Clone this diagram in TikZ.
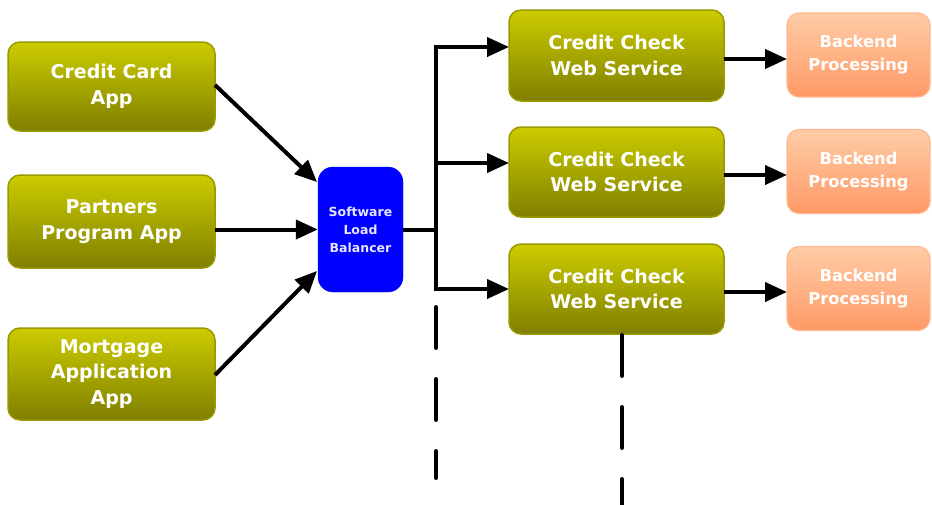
\documentclass[tikz,border=0pt]{standalone}
\usepackage{fontspec}
\setmainfont{DejaVu Sans}
\usetikzlibrary{arrows.meta,calc}
\definecolor{olivetop}{HTML}{CCCC00}
\definecolor{olivebot}{HTML}{7F7F00}
\definecolor{oliveedge}{HTML}{999900}
\definecolor{peachtop}{HTML}{FFCCA6}
\definecolor{peachbot}{HTML}{FF9966}
\definecolor{peachedge}{HTML}{FFB890}
\definecolor{lbtext}{HTML}{E6E6FF}
\tikzset{
  appbox/.style={draw=oliveedge, line width=1.5pt, rounded corners=12pt, top color=olivetop, bottom color=olivebot,
     text=white, font=\bfseries\fontsize{19}{25.5}\selectfont, align=center, inner sep=0pt},
  backbox/.style={draw=peachedge, line width=1.2pt, rounded corners=12pt, top color=peachtop, bottom color=peachbot,
     text=white, font=\bfseries\fontsize{16.3}{23}\selectfont, align=center, inner sep=0pt,
     minimum width=143pt, minimum height=84pt},
  lbbox/.style={fill=blue, draw=blue, rounded corners=15pt, text=lbtext,
     font=\bfseries\fontsize{12.5}{18}\selectfont, align=center, inner sep=0pt,
     minimum width=85pt, minimum height=125pt},
  conn/.style={line width=4pt, -{Triangle[length=22pt,width=19pt]}},
  plain/.style={line width=4pt},
  dashline/.style={line width=4pt, line cap=round, dash pattern=on 41pt off 31pt}
}
\begin{document}
\begin{tikzpicture}[x=1pt,y=-1pt]
\useasboundingbox (0,0) rectangle (932,504);
% left apps
\node[appbox, minimum width=207pt, minimum height=89pt] (a1) at (111.5,86.5) {Credit Card\\App};
\node[appbox, minimum width=207pt, minimum height=93pt] (a2) at (111.5,221.5) {Partners\\Program App};
\node[appbox, minimum width=207pt, minimum height=92pt] (a3) at (111.5,374) {Mortgage\\Application\\App};
% load balancer
\node[lbbox] (lb) at (360.5,229.5) {Software\\Load\\Balancer};
% credit check services
\node[appbox, minimum width=215pt, minimum height=91pt] (c1) at (616.5,55.5) {Credit Check\\Web Service};
\node[appbox, minimum width=215pt, minimum height=90pt] (c2) at (616.5,172) {Credit Check\\Web Service};
\node[appbox, minimum width=215pt, minimum height=90pt] (c3) at (616.5,289) {Credit Check\\Web Service};
% backend
\node[backbox] (b1) at (858.5,55) {Backend\\Processing};
\node[backbox] (b2) at (858.5,171.5) {Backend\\Processing};
\node[backbox] (b3) at (858.5,288.5) {Backend\\Processing};
% coordinates
\coordinate (a1o) at (215,85);
\coordinate (lbi1) at (317,182);
\coordinate (a2o) at (215,229.5);
\coordinate (a3o) at (215,375);
\coordinate (lbi3) at (317,271);
\coordinate (bus) at (436,229.5);
\coordinate (bustop) at (436,47);
\coordinate (busmid) at (436,163);
\coordinate (busbot) at (436,289);
\coordinate (c1i) at (509,47);
\coordinate (c2i) at (509,163);
\coordinate (c3i) at (509,289);
\coordinate (c1o) at (724,59);
\coordinate (b1i) at (787,59);
\coordinate (c2o) at (724,175);
\coordinate (b2i) at (787,175);
\coordinate (c3o) at (724,292);
\coordinate (b3i) at (787,292);
\coordinate (d1s) at (436,307);
\coordinate (d1e) at (436,478);
\coordinate (d2s) at (622,335);
\coordinate (d2e) at (622,520);
% connectors
\draw[conn] (a1o) -- (lbi1);
\draw[conn] (a2o) -- (lb.west);
\draw[conn] (a3o) -- (lbi3);
\draw[plain] (lb.east) -- (bus);
\draw[plain] ($(bustop)+(0,-2)$) -- ($(busbot)+(0,2)$);
\draw[conn] ($(bustop)+(-2,0)$) -- (c1i);
\draw[conn] (busmid) -- (c2i);
\draw[conn] ($(busbot)+(-2,0)$) -- (c3i);
\draw[conn] (c1o) -- (b1i);
\draw[conn] (c2o) -- (b2i);
\draw[conn] (c3o) -- (b3i);
\draw[dashline] (d1s) -- (d1e);
\draw[dashline] (d2s) -- (d2e);
\end{tikzpicture}
\end{document}
